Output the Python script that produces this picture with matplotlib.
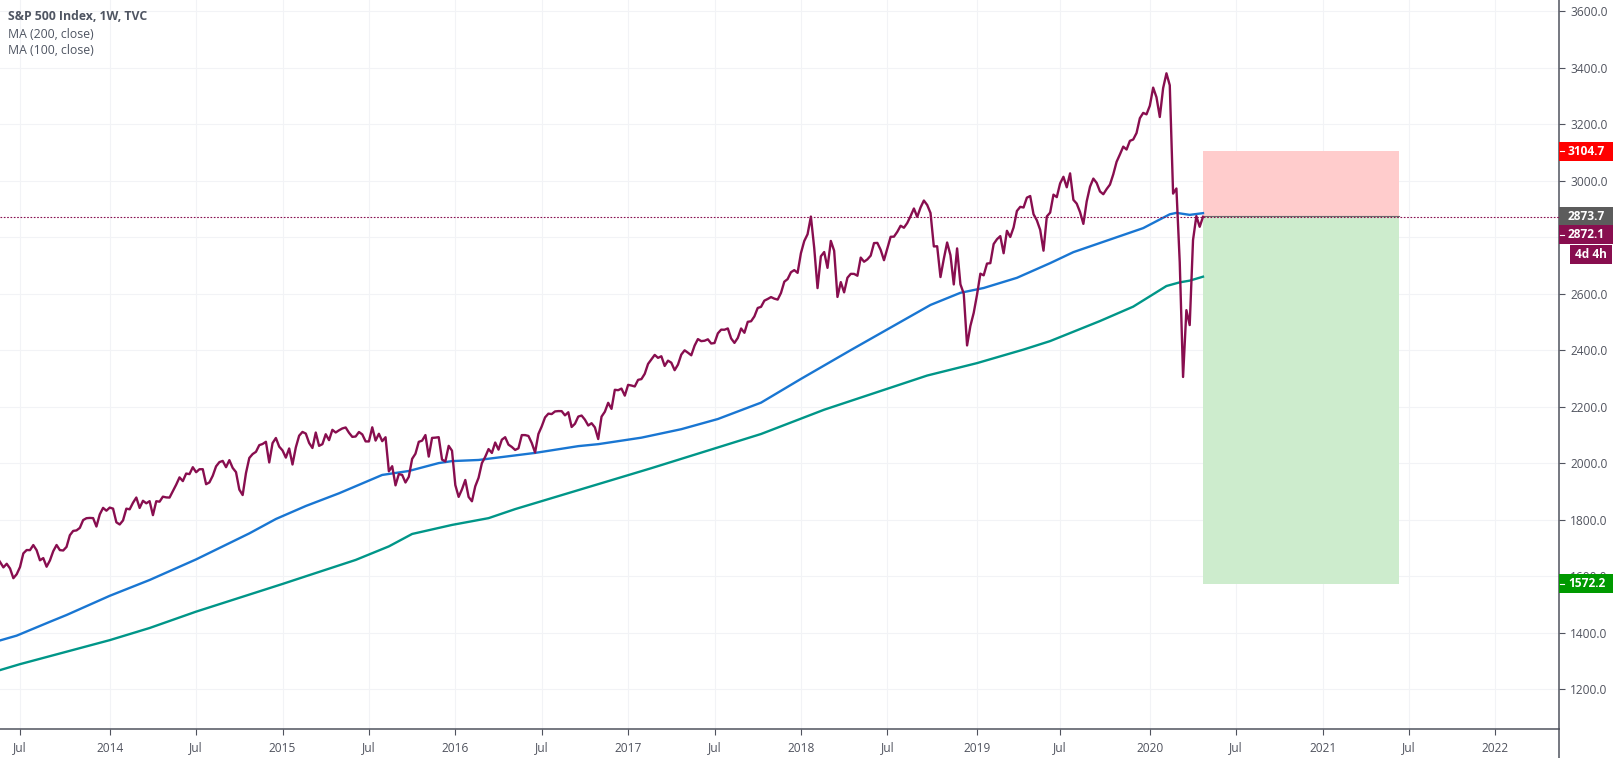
import matplotlib
matplotlib.use("Agg")
import matplotlib.pyplot as plt
import matplotlib.dates as mdates
from matplotlib.patches import Rectangle
from matplotlib.lines import Line2D
import pandas as pd

# weekly closes, first bar May 2013, last bar 27 Apr 2020
closes = [
    1633.7, 1667.5, 1649.6, 1630.7, 1643.4, 1626.7, 1592.4, 1606.3, 1631.9, 1680.2, 1692.1, 1691.7, 1709.7, 1691.4,
    1655.8, 1663.5, 1633.0, 1655.2, 1688.0, 1709.9, 1691.8, 1690.5, 1703.2, 1744.5, 1759.8, 1761.6, 1770.6, 1798.2,
    1804.8, 1805.8, 1805.1, 1775.3, 1818.3, 1841.4, 1831.4,
    1842.4, 1838.7, 1790.3, 1782.6, 1797.0, 1838.6, 1836.3, 1859.5, 1878.0, 1841.1, 1866.5, 1857.6, 1865.1, 1815.7,
    1864.9, 1863.4, 1881.1, 1878.5, 1877.9, 1900.5, 1923.6, 1949.4, 1936.2, 1962.9, 1961.0, 1985.4, 1967.6, 1978.2,
    1978.3, 1925.2, 1931.6, 1955.1, 1988.4, 2003.4, 2007.7, 1985.5, 2010.4, 1982.9, 1967.9, 1906.1, 1886.8, 1964.6,
    2018.1, 2031.9, 2039.8, 2063.5, 2067.6, 2075.4, 2002.3, 2070.7, 2088.8, 2058.2,
    2044.8, 2019.4, 2051.8, 1995.0, 2055.5, 2097.0, 2110.3, 2104.5, 2071.3, 2053.4, 2108.1, 2061.0, 2067.0, 2102.1,
    2081.2, 2117.7, 2108.3, 2116.1, 2122.7, 2126.1, 2107.4, 2092.8, 2094.1, 2110.0, 2101.5, 2076.8, 2076.6, 2126.6,
    2079.7, 2103.8, 2077.6, 2091.5, 1970.9, 1988.9, 1921.2, 1961.1, 1958.1, 1931.3, 1951.4, 2014.9, 2033.1, 2075.2,
    2079.4, 2099.2, 2023.0, 2089.2, 2090.1, 2091.7, 2012.4, 2005.6, 2061.0, 2043.9,
    1922.0, 1880.3, 1906.9, 1940.2, 1880.1, 1864.8, 1917.8, 1948.1, 2000.0, 2022.2, 2049.6, 2035.9, 2072.8, 2047.6,
    2082.8, 2091.6, 2065.3, 2057.1, 2046.6, 2052.3, 2099.1, 2099.1, 2096.1, 2071.2, 2037.4, 2103.0, 2129.9, 2161.7,
    2175.0, 2173.6, 2182.9, 2184.1, 2183.9, 2169.0, 2180.0, 2127.8, 2139.2, 2164.7, 2168.3, 2153.7, 2133.0, 2141.2,
    2126.4, 2085.2, 2164.5, 2181.9, 2213.4, 2192.0, 2259.5, 2258.1, 2263.8, 2238.8,
    2277.0, 2274.6, 2271.3, 2294.7, 2297.4, 2316.1, 2351.2, 2367.3, 2383.1, 2372.6, 2378.3, 2344.0, 2362.7, 2355.5,
    2329.0, 2348.7, 2384.2, 2399.3, 2390.9, 2381.7, 2415.8, 2439.1, 2431.8, 2433.2, 2438.3, 2423.4, 2425.2, 2459.3,
    2472.5, 2472.1, 2476.8, 2441.3, 2425.6, 2443.1, 2476.6, 2461.4, 2500.2, 2502.2, 2519.4, 2549.3, 2553.2, 2575.2,
    2581.1, 2587.8, 2582.3, 2578.9, 2602.4, 2642.2, 2651.5, 2675.8, 2683.3, 2673.6,
    2743.2, 2786.2, 2810.3, 2872.9, 2762.1, 2619.6, 2732.2, 2747.3, 2691.3, 2786.6, 2752.0, 2588.3, 2640.9, 2604.5,
    2656.3, 2670.1, 2669.9, 2663.4, 2727.7, 2713.0, 2721.3, 2734.6, 2779.0, 2779.7, 2754.9, 2718.4, 2759.8, 2801.3,
    2801.8, 2818.8, 2840.4, 2833.3, 2850.1, 2874.7, 2901.5, 2871.7, 2905.0, 2929.7, 2914.0, 2885.6, 2767.1, 2767.8,
    2658.7, 2723.1, 2781.0, 2736.3, 2632.6, 2760.2, 2633.1, 2600.0, 2416.6, 2485.7, 2531.9,
    2596.3, 2670.7, 2664.8, 2706.5, 2707.9, 2775.6, 2792.7, 2803.7, 2743.1, 2822.5, 2800.7, 2834.4, 2892.7, 2907.4,
    2905.0, 2939.9, 2945.6, 2881.4, 2859.5, 2826.1, 2752.1, 2873.3, 2887.0, 2950.5, 2941.8, 2990.4, 3013.8, 2976.6,
    3025.9, 2932.1, 2918.7, 2888.7, 2847.1, 2926.5, 2978.7, 3007.4, 2992.1, 2961.8, 2952.0, 2970.3, 2986.2, 3022.6,
    3066.9, 3093.1, 3120.5, 3110.3, 3141.0, 3145.9, 3168.8, 3221.2, 3240.0, 3234.9,
    3265.4, 3329.6, 3295.5, 3225.5, 3327.7, 3380.2, 3337.8, 2954.2, 2972.4, 2711.0, 2304.9, 2541.5, 2488.7, 2789.8,
    2874.6, 2836.7, 2872.1,
]

# moving averages, read at some weeks (weeks before the last bar)
ma200_weeks = [362, 357, 347, 342, 329, 317, 303, 287, 279, 270, 260, 255, 247, 239, 230, 226, 218, 201, 188,
               182, 169, 157, 146, 133, 121, 106, 91, 82, 73, 66, 56, 46, 39, 18, 10, 8, 4, 0]
ma200_values = [1372, 1389, 1438, 1462, 1530, 1586, 1659, 1751, 1802, 1848, 1893, 1918, 1958, 1972, 2000, 2007,
                2011, 2036, 2060, 2067, 2090, 2120, 2156, 2214, 2298, 2400, 2500, 2560, 2603, 2620, 2656, 2708,
                2747, 2832, 2881, 2886, 2879, 2885]
ma100_weeks = [362, 356, 329, 317, 303, 290, 277, 269, 255, 245, 238, 226, 215, 207, 166, 133, 114, 83, 68, 54,
               46, 31, 21, 11, 7, 4, 0]
ma100_values = [1267, 1288, 1373, 1416, 1474, 1523, 1572, 1603, 1657, 1705, 1749, 1781, 1805, 1837, 1982, 2103,
                2189, 2310, 2354, 2402, 2432, 2503, 2554, 2627, 2640, 2646, 2660]

price_ticks = [1200, 1400, 1600, 1800, 2000, 2200, 2400, 2600, 2800, 3000, 3200, 3400, 3600]
# the 2800.0 label sits behind the last price badge
price_labels = ["1200.0", "1400.0", "1600.0", "1800.0", "2000.0", "2200.0", "2400.0", "2600.0", "", "3000.0",
                "3200.0", "3400.0", "3600.0"]
time_ticks = ["2013-07-01", "2014-01-06", "2014-07-07", "2015-01-05", "2015-07-06", "2016-01-04", "2016-07-04",
              "2017-01-02", "2017-07-03", "2018-01-01", "2018-07-02", "2019-01-07", "2019-07-01", "2020-01-06",
              "2020-07-06", "2021-01-04", "2021-07-05", "2022-01-03"]
time_labels = ["Jul", "2014", "Jul", "2015", "Jul", "2016", "Jul", "2017", "Jul", "2018", "Jul", "2019", "Jul",
               "2020", "Jul", "2021", "Jul", "2022"]

entry_price = 2873.7
stop_price = 3104.7
target_price = 1572.2
last_price = 2872.1
box_end = "2021-06-13"

MAROON = "#880e4f"
AXIS_COLOR = "#50535e"
GRID_COLOR = "#f2f3f6"
W, H = 1613, 758
AX_RIGHT, AX_BOTTOM = 1559, 729
PX_PER_DAY = 3.323 / 7

plt.rcParams["font.family"] = ["Open Sans", "DejaVu Sans"]

fig = plt.figure(figsize=(W / 100, H / 100), dpi=100, facecolor="white")
ax = fig.add_axes([0, 1 - AX_BOTTOM / H, AX_RIGHT / W, AX_BOTTOM / H])

last_date = pd.Timestamp("2020-04-27")
dates = pd.date_range(end=last_date, periods=len(closes), freq="7D")
ma200_dates = [last_date - pd.Timedelta(weeks=k) for k in ma200_weeks]
ma100_dates = [last_date - pd.Timedelta(weeks=k) for k in ma100_weeks]

# grid
ax.grid(True, color=GRID_COLOR, lw=0.75, zorder=0)
ax.set_axisbelow(True)

# long position tool
box_x = [last_date, pd.Timestamp(box_end)]
ax.fill_between(box_x, entry_price, stop_price, color="#ffcccc", lw=0, zorder=1)
ax.fill_between(box_x, target_price, entry_price, color="#cdeccd", lw=0, zorder=1)
ax.plot(box_x, [entry_price, entry_price], color="#6b6b6b", lw=0.8, zorder=2)

ax.plot(ma100_dates, ma100_values, color="#009688", lw=1.7, zorder=3)
ax.plot(ma200_dates, ma200_values, color="#1976d2", lw=1.7, zorder=3)
ax.plot(dates, closes, color=MAROON, lw=1.7, zorder=4)
ax.axhline(last_price, color=MAROON, lw=0.8, ls=(0, (1.5, 1.5)), zorder=5)

left = mdates.date2num(last_date) - 1203 / PX_PER_DAY
right = mdates.date2num(last_date) + (AX_RIGHT - 1203) / PX_PER_DAY
ax.set_xlim(left, right)
# 1200 sits at pixel 689, 0.2824 px per point
ax.set_ylim(1200 - (AX_BOTTOM - 689) / 0.2824, 1200 + 689 / 0.2824)

ax.set_xticks([mdates.date2num(pd.Timestamp(t)) for t in time_ticks])
ax.set_xticklabels(time_labels)
ax.set_yticks(price_ticks)
ax.set_yticklabels(price_labels)
ax.yaxis.tick_right()
ax.tick_params(axis="x", length=4, width=0.8, color=AXIS_COLOR, labelcolor=AXIS_COLOR, labelsize=8.6, pad=5)
ax.tick_params(axis="y", length=4, width=0.8, color=AXIS_COLOR, labelcolor=AXIS_COLOR, labelsize=8.6, pad=4)

ax.spines["top"].set_visible(False)
ax.spines["left"].set_visible(False)
for s in ["right", "bottom"]:
    ax.spines[s].set_color(AXIS_COLOR)
    ax.spines[s].set_linewidth(1.1)
fig.add_artist(Line2D([AX_RIGHT / W, AX_RIGHT / W], [0, 1 - AX_BOTTOM / H], color=AXIS_COLOR, lw=1.1))

# legend text, top left
for y, txt, weight in [(17, "S&P 500 Index, 1W, TVC", "bold"), (34, "MA (200, close)", "normal"),
                       (51, "MA (100, close)", "normal")]:
    fig.text(8 / W, 1 - y / H, txt, color="#4f5562", fontsize=8.8, fontweight=weight, va="center", ha="left")


def badge(price, text, color, x0=AX_RIGHT, x1=W, shift=0.0, tick=True, center=False):
    y = ax.transData.transform((0, price))[1] - shift
    h = 19
    fig.add_artist(Rectangle((x0 / W, (y - h / 2) / H), (x1 - x0) / W, h / H, color=color, lw=0, zorder=10))
    if tick:
        fig.add_artist(Line2D([(x0 + 1) / W, (x0 + 5) / W], [y / H, y / H], color="white", lw=0.8, zorder=11))
    if center:
        fig.text((x0 + x1) / 2 / W, y / H, text, color="white", fontsize=8.6, fontweight="bold",
                 ha="center", va="center", zorder=12)
    else:
        fig.text((x0 + 9) / W, y / H, text, color="white", fontsize=8.6, fontweight="bold",
                 ha="left", va="center", zorder=12)


badge(stop_price, f"{stop_price:.1f}", "#ff0000")
badge(entry_price, f"{entry_price:.1f}", "#5c5c5c", tick=False)
badge(last_price, f"{last_price:.1f}", MAROON, shift=18)
badge(last_price, "4d 4h", MAROON, x0=1570, x1=1612, shift=38, tick=False, center=True)
badge(target_price, f"{target_price:.1f}", "#009900")

fig.savefig("out.png", dpi=100)
